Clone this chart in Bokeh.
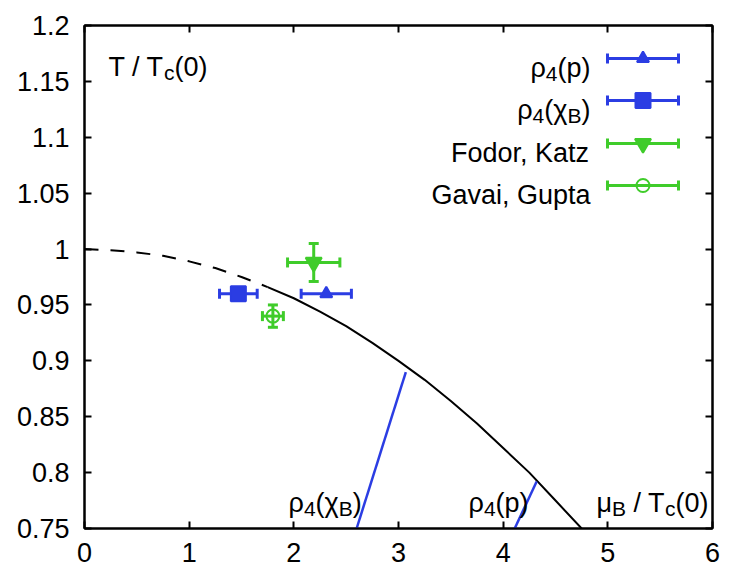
from bokeh.plotting import figure
from bokeh.models import FixedTicker, LinearAxis, Range1d, Whisker, TeeHead, Label, ColumnDataSource
from bokeh.embed import file_html
from bokeh.resources import INLINE

# ---------------- data ----------------
x_ticks = [0, 1, 2, 3, 4, 5, 6]
x_tick_labels = ["0", "1", "2", "3", "4", "5", "6"]
y_ticks = [0.75, 0.8, 0.85, 0.9, 0.95, 1.0, 1.05, 1.1, 1.15, 1.2]
y_tick_labels = ["0.75", "0.8", "0.85", "0.9", "0.95", "1", "1.05", "1.1", "1.15", "1.2"]

# transition line T/Tc(0) vs muB/Tc(0)
curve_dashed_mu = [0.0, 0.25, 0.5, 0.75, 1.0, 1.25, 1.5, 1.75]
curve_dashed_T = [1.000, 0.999, 0.997, 0.994, 0.989, 0.983, 0.975, 0.966]
curve_solid_mu = [1.75, 2.0, 2.25, 2.5, 2.75, 3.0, 3.25, 3.5, 3.75, 4.0, 4.25, 4.5, 4.75]
curve_solid_T = [0.966, 0.956, 0.944, 0.931, 0.916, 0.900, 0.883, 0.864, 0.844, 0.822, 0.800, 0.775, 0.750]

# radius-of-convergence lines
rchi_mu = [2.60, 3.07]
rchi_T = [0.750, 0.890]
rp_mu = [4.11, 4.32]
rp_T = [0.750, 0.792]

# data points
series_names = ["rho4_p", "rho4_chiB", "Fodor, Katz", "Gavai, Gupta"]
pt_mu = [2.31, 1.47, 2.19, 1.80]
pt_mu_err = [0.24, 0.18, 0.25, 0.10]
pt_T = [0.960, 0.960, 0.988, 0.940]
pt_T_err = [0.0, 0.0, 0.017, 0.010]

BLUE = "#2b3de3"
GREEN = "#3fcc2a"
series_colors = [BLUE, BLUE, GREEN, GREEN]
series_markers = ["triangle", "square", "inverted_triangle", "circle"]
series_sizes = [12, 15, 16, 13]
series_filled = [True, True, True, False]

FONT = "Liberation Sans"
FS = 27
SUB_FS = 21
SUB_DY = 6

# ---------------- figure ----------------
XMIN, XMAX, YMIN, YMAX = 0, 6, 0.75, 1.2
FX0, FX1, FY0, FY1 = 84, 712, 25, 528   # frame in window pixels
W_TOT, H_TOT = 721, 573

p = figure(width=W_TOT, height=H_TOT,
           x_range=Range1d(XMIN, XMAX), y_range=Range1d(YMIN, YMAX),
           output_backend="svg", toolbar_location=None,
           min_border_left=FX0, min_border_right=W_TOT - FX1, min_border_top=FY0,
           min_border_bottom=H_TOT - FY1)
p.background_fill_color = "white"
p.border_fill_color = "white"
p.grid.grid_line_color = None
p.outline_line_color = "black"
p.outline_line_width = 2


def style_axis(ax, ticks, labels, show):
    ax.ticker = FixedTicker(ticks=ticks)
    ax.major_label_overrides = {t: l for t, l in zip(ticks, labels)}
    ax.axis_line_color = "black"
    ax.axis_line_width = 2
    ax.major_tick_in = 7
    ax.major_tick_out = 0
    ax.major_tick_line_width = 2
    ax.major_tick_line_color = "black"
    ax.minor_tick_line_color = None
    ax.major_label_text_font = FONT
    ax.major_label_text_color = "black"
    if show:
        ax.major_label_text_font_size = f"{FS}px"
    else:
        ax.major_label_text_font_size = "0px"
        ax.major_label_standoff = 0


style_axis(p.xaxis[0], x_ticks, x_tick_labels, True)
style_axis(p.yaxis[0], y_ticks, y_tick_labels, True)
p.xaxis[0].major_label_standoff = 14
p.yaxis[0].major_label_standoff = 15

top_ax = LinearAxis()
style_axis(top_ax, x_ticks, ["" for _ in x_ticks], False)
p.add_layout(top_ax, "above")
right_ax = LinearAxis()
style_axis(right_ax, y_ticks, ["" for _ in y_ticks], False)
p.add_layout(right_ax, "right")

# curve
p.line(curve_dashed_mu, curve_dashed_T, line_color="black", line_width=2, line_dash="14 12")
p.line(curve_solid_mu, curve_solid_T, line_color="black", line_width=2)

# blue lines
p.line(rchi_mu, rchi_T, line_color=BLUE, line_width=2.5)
p.line(rp_mu, rp_T, line_color=BLUE, line_width=2.5)


def add_whisker(base, lower, upper, dim, color):
    src = ColumnDataSource(dict(base=base, lower=lower, upper=upper))
    w = Whisker(source=src, base="base", lower="lower", upper="upper", dimension=dim,
                line_color=color, line_width=3,
                upper_head=TeeHead(size=10, line_color=color, line_width=3),
                lower_head=TeeHead(size=10, line_color=color, line_width=3))
    p.add_layout(w)


def add_marker(x, y, i):
    kw = dict(marker=series_markers[i], size=series_sizes[i], line_color=series_colors[i], line_width=2)
    if series_filled[i]:
        kw["fill_color"] = series_colors[i]
    else:
        kw["fill_color"] = None
    p.scatter([x], [y], **kw)


for i in range(len(series_names)):
    c = series_colors[i]
    add_whisker([pt_T[i]], [pt_mu[i] - pt_mu_err[i]], [pt_mu[i] + pt_mu_err[i]], "width", c)
    if pt_T_err[i] > 0:
        add_whisker([pt_mu[i]], [pt_T[i] - pt_T_err[i]], [pt_T[i] + pt_T_err[i]], "height", c)
    add_marker(pt_mu[i], pt_T[i], i)


# ---------------- text helpers (layout) ----------------
def to_x(px):
    return XMIN + (px - FX0) / (FX1 - FX0) * (XMAX - XMIN)


def to_y(py):
    return YMAX - (py - FY0) / (FY1 - FY0) * (YMAX - YMIN)


W = {' ': 0.278, '(': 0.333, ')': 0.333, '/': 0.278, ',': 0.278, '0': 0.556, '4': 0.556,
     'B': 0.667, 'F': 0.611, 'G': 0.778, 'K': 0.667, 'T': 0.611, 'a': 0.556, 'c': 0.5,
     'd': 0.556, 'i': 0.222, 'o': 0.556, 'p': 0.556, 'r': 0.333, 't': 0.278, 'u': 0.556,
     'v': 0.5, 'z': 0.5, 'ρ': 0.57, 'χ': 0.53, 'μ': 0.576}


def piece_width(text, size):
    return sum(W.get(ch, 0.556) for ch in text) * size


def rich(px, base_py, pieces, align="left"):
    sizes = [SUB_FS if sub else FS for _, sub in pieces]
    total = sum(piece_width(t, s) for (t, _), s in zip(pieces, sizes))
    cur = px - total if align == "right" else px
    for (t, sub), s in zip(pieces, sizes):
        py = base_py + (SUB_DY if sub else 0)
        lead = len(t) - len(t.lstrip(" "))
        cur += piece_width(" " * lead, s)
        body = t.strip(" ")
        p.add_layout(Label(x=to_x(cur), y=to_y(py), text=body, text_font=FONT,
                           text_font_size=f"{s}px", text_color="black",
                           text_baseline="alphabetic", text_align="left"))
        cur += piece_width(t.lstrip(" "), s)


rich(108, 66, [("T / T", False), ("c", True), ("(0)", False)])
rich(288, 502, [("ρ", False), ("4", True), ("(χ", False), ("B", True), (")", False)])
rich(468, 502, [("ρ", False), ("4", True), ("(p)", False)])
rich(596, 502, [("μ", False), ("B", True), (" / T", False), ("c", True), ("(0)", False)])

# ---------------- legend (manual, text on the left) ----------------
legend_rows_py = [58, 100, 143, 185]
legend_texts = [
    [("ρ", False), ("4", True), ("(p)", False)],
    [("ρ", False), ("4", True), ("(χ", False), ("B", True), (")", False)],
    [("Fodor, Katz", False)],
    [("Gavai, Gupta", False)],
]
LX0, LX1, LTX = 607, 678, 590
for i, row in enumerate(legend_rows_py):
    c = series_colors[i]
    yv = to_y(row)
    add_whisker([yv], [to_x(LX0)], [to_x(LX1)], "width", c)
    add_marker(to_x((LX0 + LX1) / 2), yv, i)
    rich(LTX, row + 9, legend_texts[i], align="right")

open("out.html", "w").write(file_html(p, INLINE))
